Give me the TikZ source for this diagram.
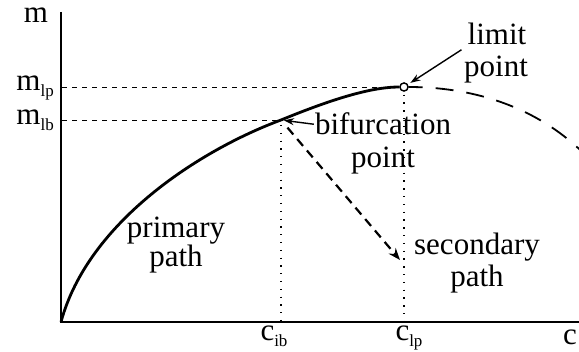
\documentclass[tikz,border=0pt]{standalone}
\usepackage{fontspec}
\setmainfont{Liberation Serif}
\usetikzlibrary{arrows.meta}
\newcommand{\sbx}[1]{\raisebox{-0.18em}{\fontsize{17}{17}\selectfont #1}}
\begin{document}
\begin{tikzpicture}[x=1pt,y=-1pt,
  lbl/.style={font=\fontsize{31}{34}\selectfont, inner sep=1pt, anchor=base},
  axis/.style={line width=2pt},
  primary/.style={line width=2.8pt},
  secondarycurve/.style={line width=1.8pt, dash pattern=on 18pt off 13pt},
  guide/.style={line width=0.9pt, dash pattern=on 5pt off 5pt},
  dots/.style={line width=1.3pt, dash pattern=on 1.3pt off 6.5pt},
  ptr/.style={line width=1.4pt, -{Stealth[length=10pt,width=7pt]}},
  branch/.style={line width=2.2pt, dash pattern=on 9pt off 6pt, -{Stealth[length=12pt,width=9pt]}},
  ptmark/.style={circle, draw, fill=white, minimum size=8pt, inner sep=0pt, line width=1.3pt},
]
\useasboundingbox (0,0) rectangle (579,352);
% coordinates
\coordinate (O) at (61,322);
\coordinate (ytop) at (61,12);
\coordinate (xend) at (590,322);
\coordinate (bifpt) at (281,120);
\coordinate (mlpstart) at (62,87);
\coordinate (mlbstart) at (62,120);
\coordinate (secend) at (400,260);
\coordinate (curveend) at (592,162);
\node[ptmark] (limpt) at (404,87) {};
% axes
\draw[axis] (ytop) -- (O) -- (xend);
% guides
\draw[guide] (mlpstart) -- (limpt.west);
\draw[guide] (mlbstart) -- (bifpt);
\draw[dots, shorten <=5pt] (bifpt) -- (bifpt |- O);
\draw[dots, shorten <=3pt] (limpt.south) -- (limpt |- O);
% curves
\draw[primary] (O) .. controls (88,222) and (200,150) .. (bifpt)
  .. controls (330,100) and (370,87) .. (limpt.west);
\draw[secondarycurve, dash phase=4pt] (limpt.east) .. controls (470,87) and (540,105) .. (curveend);
\node[ptmark] at (limpt) {};
% labels
\node[lbl] (mlab) at (36,23) {m};
\node[lbl, anchor=base east] (mlp) at (55,91) {m\sbx{lp}};
\node[lbl, anchor=base east] (mlb) at (55,125) {m\sbx{lb}};
\node[lbl] (cib) at (274,341) {c\sbx{ib}};
\node[lbl] (clp) at (409,341) {c\sbx{lp}};
\node[lbl] (clab) at (570,345) {c};
\node[lbl] (lim1) at (497,45) {limit};
\node[lbl] (lim2) at (496,77) {point};
\node[lbl] (bif1) at (383,135) {bifurcation};
\node[lbl] (bif2) at (383,168) {point};
\node[lbl] (pri1) at (176,238) {primary};
\node[lbl] (pri2) at (176,267) {path};
\node[lbl] (sec1) at (477,255) {secondary};
\node[lbl] (sec2) at (477,287) {path};
% arrows
\draw[ptr, shorten >=3pt] (bif1.west) -- (bifpt);
\draw[ptr, shorten <=6pt, shorten >=3pt] (lim1.south west) -- (limpt);
\draw[branch, shorten <=10pt] (bifpt) -- (secend);
\end{tikzpicture}
\end{document}
